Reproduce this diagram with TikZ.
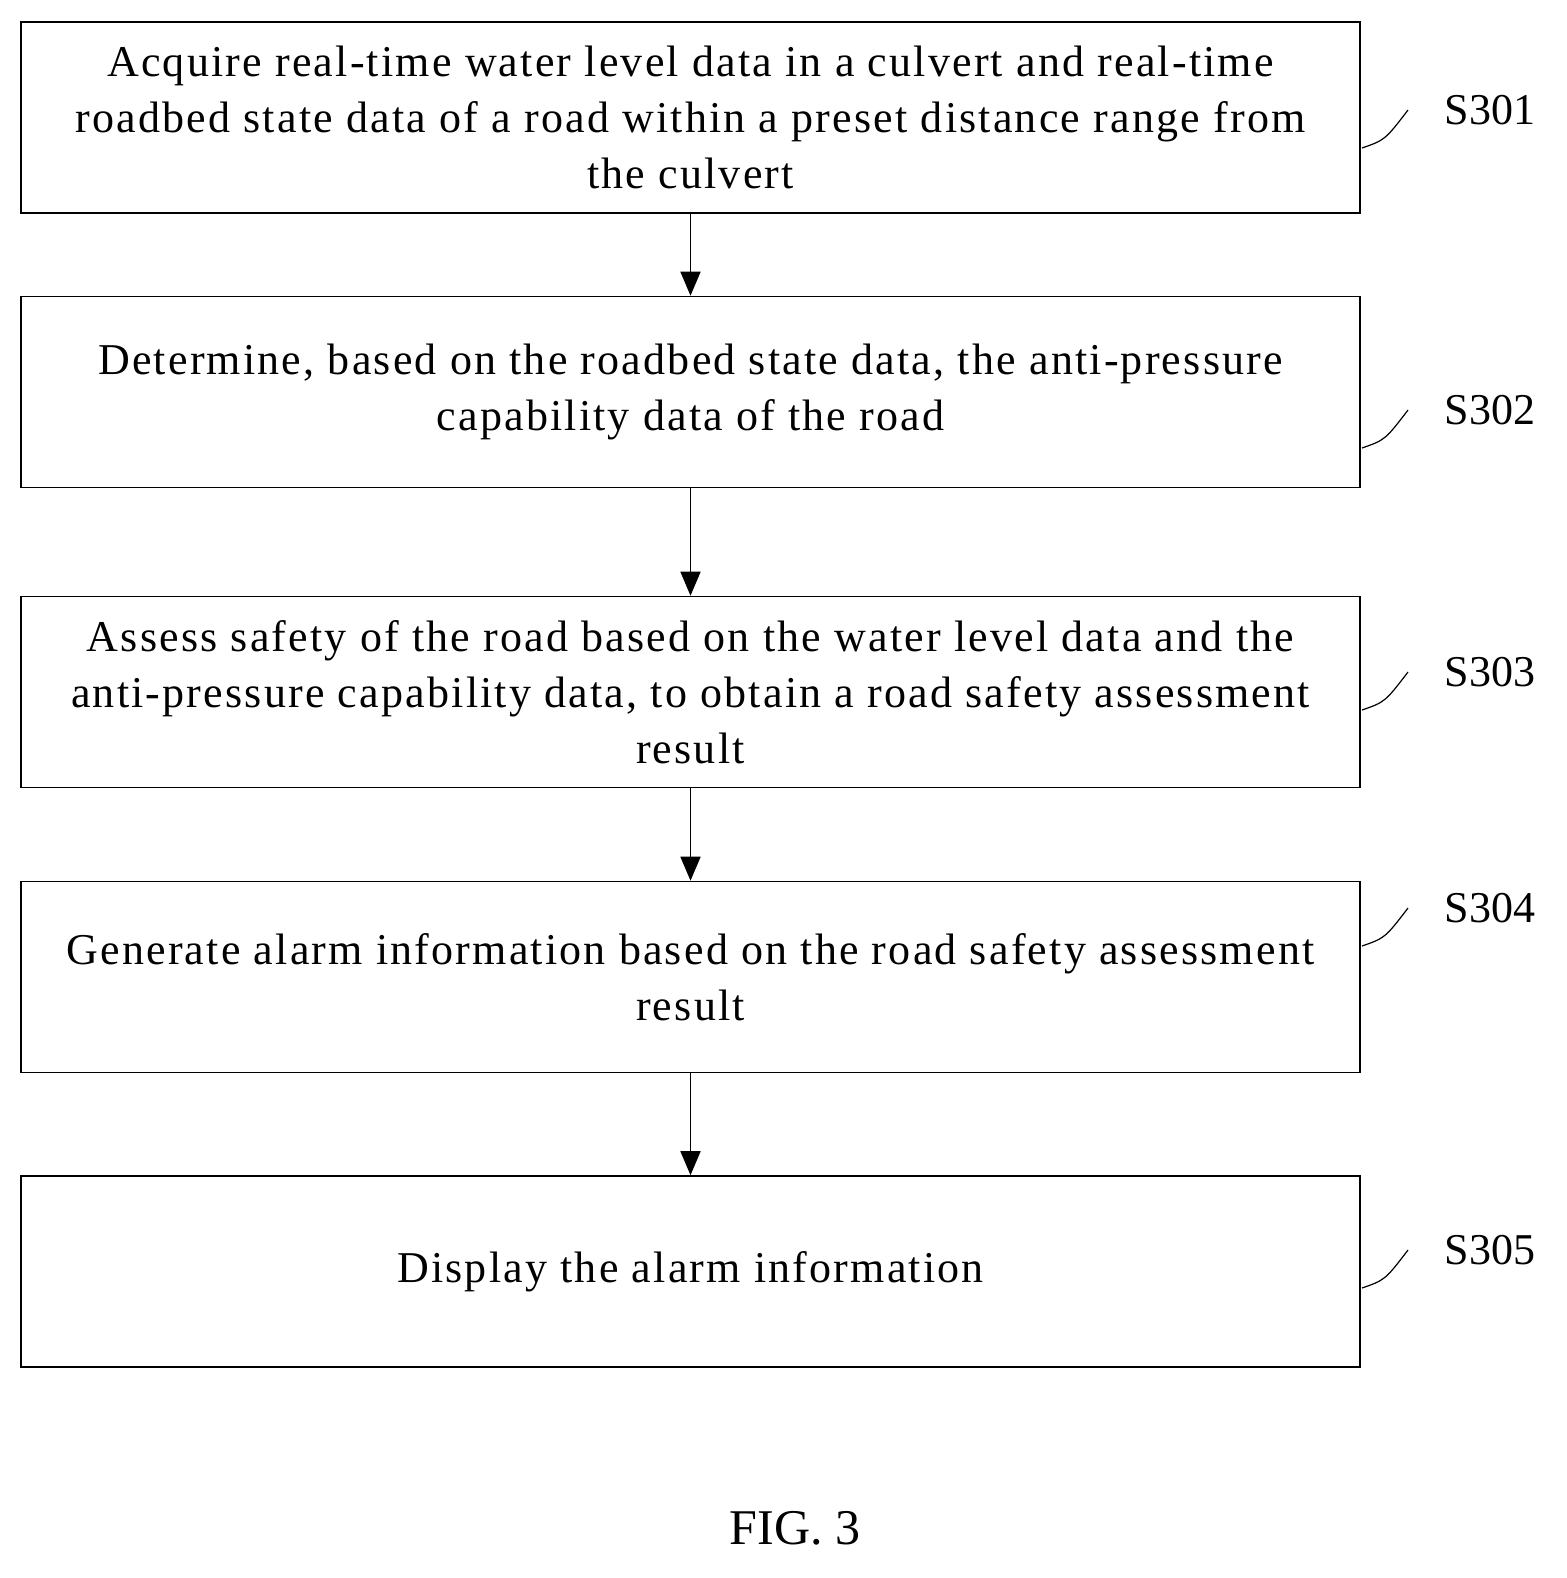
\documentclass[tikz,border=0pt]{standalone}
\usepackage{fontspec}
\setmainfont{Liberation Serif}
\usetikzlibrary{arrows.meta}
\begin{document}
\begin{tikzpicture}[x=0.5pt,y=-0.5pt,
 box/.style={draw,line width=0.8pt,minimum width=669.5pt,minimum height=95.5pt,align=center,inner sep=0pt,font=\fontsize{22}{28}\selectfont\addfontfeature{LetterSpace=5}},
 lab/.style={font=\fontsize{22}{24}\selectfont},
 arr/.style={-{Triangle[length=12pt,width=10pt]},line width=0.8pt}]
\useasboundingbox (0,0) rectangle (1567,1578);
\node[box] (b1) at (690.5,117.5) {Acquire real-time water level data in a culvert and real-time\\roadbed state data of a road within a preset distance range from\\the culvert};
\node[box] (b2) at (690.5,392) {Determine, based on the roadbed state data, the anti-pressure\\capability data of the road};
\node[box] (b3) at (690.5,692) {Assess safety of the road based on the water level data and the\\anti-pressure capability data, to obtain a road safety assessment\\result};
\node[box] (b4) at (690.5,977) {Generate alarm information based on the road safety assessment\\result};
\node[box] (b5) at (690.5,1271.5) {Display the alarm information};
\draw[arr] (b1) -- (b2);
\draw[arr] (b2) -- (b3);
\draw[arr] (b3) -- (b4);
\draw[arr] (b4) -- (b5);
\foreach \i/\y in {1/148,2/448,3/710,4/946,5/1288}{
 \coordinate (t\i) at (1362,\y);
 \coordinate (u\i) at (1408,\y-38);
 \draw[line width=0.6pt] (t\i) .. controls (1385,\y-8) .. (u\i);
 \node[lab] (s\i) at (1490,\y-38) {S30\i};
}
\node[font=\fontsize{25}{28}\selectfont] (fig) at (795,1528) {FIG. 3};
\end{tikzpicture}
\end{document}
